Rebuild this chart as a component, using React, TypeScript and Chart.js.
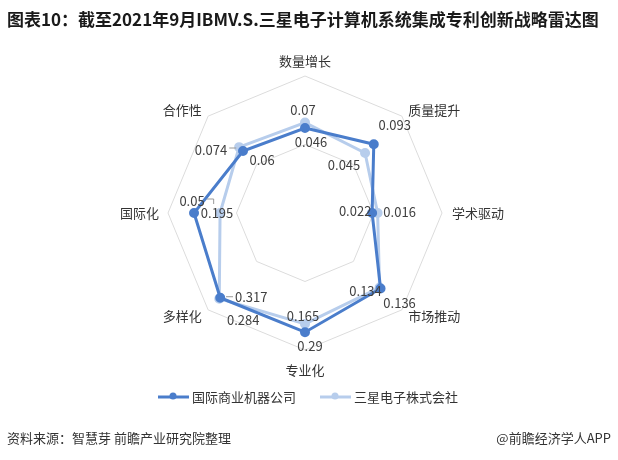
import React, { useEffect, useRef } from 'react';
import { Chart, registerables } from 'chart.js';

Chart.register(...registerables);

const titleText = '图表10：截至2021年9月IBMV.S.三星电子计算机系统集成专利创新战略雷达图';
const sourceText = '资料来源：智慧芽 前瞻产业研究院整理';
const brandText = '@前瞻经济学人APP';

const categories = ['数量增长', '质量提升', '学术驱动', '市场推动', '专业化', '多样化', '国际化', '合作性'];
const seriesNames = ['国际商业机器公司', '三星电子株式会社'];

// plotted radial scores (as drawn in the reference, 0..1)
const ibmScores = [0.62, 0.71, 0.49, 0.78, 0.87, 0.875, 0.81, 0.64];
const samsungScores = [0.66, 0.62, 0.53, 0.77, 0.81, 0.885, 0.62, 0.68];

// value labels printed next to the points
const ibmValueLabels = ['0.046', '0.093', '0.022', '0.134', '0.29', '0.284', '0.05', '0.074'];
const samsungValueLabels = ['0.07', '0.045', '0.016', '0.136', '0.165', '0.317', '0.195', '0.06'];

// label placement (pixel offsets from the point) and leader flags
const ibmLabelOffsets = [[6, 14], [21, -19], [-17, -2], [-15, 3], [5, 14], [23, 22], [-2, -12], [-32, -1]];
const samsungLabelOffsets = [[-2, -13], [-21, 12], [22, -1], [20, 15], [-2, -8], [32, -2], [-3, 0], [23, 13]];
const ibmLeaders = [0, 0, 0, 0, 0, 0, 1, 1];
const samsungLeaders = [0, 0, 0, 0, 0, 1, 0, 0];

const DARK = '#4a7dcb';
const LIGHT = '#b7cdec';
const FONT = "'Noto Sans CJK SC', 'Noto Sans', sans-serif";

const textPlugin = {
  id: 'textPlugin',
  afterDatasetsDraw(chart: any) {
    const ctx = chart.ctx;
    const r = chart.scales.r;
    ctx.save();
    // axis names
    ctx.font = `13px ${FONT}`;
    ctx.fillStyle = '#333';
    ctx.textBaseline = 'middle';
    const R = r.drawingArea;
    categories.forEach((c, i) => {
      const ang = (i * 360) / categories.length;
      let p;
      if (ang === 0) {
        p = r.getPointPosition(i, R + 15);
        ctx.textAlign = 'center';
      } else if (ang === 180) {
        p = r.getPointPosition(i, R + 20);
        ctx.textAlign = 'center';
      } else if (ang === 90) {
        p = r.getPointPosition(i, R + 10);
        ctx.textAlign = 'left';
      } else if (ang === 270) {
        p = r.getPointPosition(i, R + 9);
        ctx.textAlign = 'right';
      } else {
        p = r.getPointPosition(i, R + 9);
        ctx.textAlign = ang < 180 ? 'left' : 'right';
      }
      ctx.fillText(c, p.x, p.y);
    });

    // value labels
    ctx.font = `13px ${FONT}`;
    ctx.fillStyle = '#404040';
    ctx.textAlign = 'center';
    const sets = [
      { labels: ibmValueLabels, offs: ibmLabelOffsets, leaders: ibmLeaders },
      { labels: samsungValueLabels, offs: samsungLabelOffsets, leaders: samsungLeaders },
    ];
    sets.forEach((s, d) => {
      const meta = chart.getDatasetMeta(d);
      meta.data.forEach((pt: any, i: number) => {
        const x = pt.x + s.offs[i][0];
        const y = pt.y + s.offs[i][1];
        ctx.fillStyle = '#404040';
        ctx.fillText(s.labels[i], x, y);
        if (s.leaders[i]) {
          const w = ctx.measureText(s.labels[i]).width;
          ctx.strokeStyle = '#999';
          ctx.lineWidth = 1;
          ctx.beginPath();
          if (x < pt.x) {
            const sx = x + w / 2 + 2;
            ctx.moveTo(sx, y - 2);
            ctx.lineTo(sx + 7, y - 2);
            if (pt.y > y + 6) ctx.lineTo(sx + 7, y + 3);
          } else {
            const sx = x - w / 2 - 2;
            ctx.moveTo(sx, y);
            ctx.lineTo(sx - 7, y);
          }
          ctx.stroke();
        }
      });
    });

    // legend
    const legendY = 397;
    const items = [
      { x: 158, color: DARK, text: seriesNames[0] },
      { x: 320, color: LIGHT, text: seriesNames[1] },
    ];
    ctx.font = `13px ${FONT}`;
    ctx.textAlign = 'left';
    items.forEach((it) => {
      ctx.strokeStyle = it.color;
      ctx.lineWidth = 3;
      ctx.beginPath();
      ctx.moveTo(it.x, legendY);
      ctx.lineTo(it.x + 31, legendY);
      ctx.stroke();
      ctx.fillStyle = it.color;
      ctx.beginPath();
      ctx.arc(it.x + 15, legendY - 1, 3.5, 0, Math.PI * 2);
      ctx.fill();
      ctx.fillStyle = '#333';
      ctx.fillText(it.text, it.x + 34, legendY);
    });

    // title
    ctx.font = `bold 17px ${FONT}`;
    ctx.fillStyle = '#1a1a1a';
    ctx.textAlign = 'left';
    ctx.fillText(titleText, 7, 20);

    // footer
    ctx.font = `13px ${FONT}`;
    ctx.fillStyle = '#333';
    ctx.textAlign = 'left';
    ctx.fillText(sourceText, 7, 438);
    ctx.textAlign = 'right';
    ctx.fillText(brandText, 611, 438);
    ctx.restore();
  },
};

export default function App() {
  const ref = useRef<HTMLCanvasElement | null>(null);
  useEffect(() => {
    if (!ref.current) return;
    const chart = new Chart(ref.current, {
      type: 'radar',
      data: {
        labels: categories,
        datasets: [
          {
            label: seriesNames[0],
            data: ibmScores,
            borderColor: DARK,
            backgroundColor: DARK,
            pointBackgroundColor: DARK,
            pointBorderColor: DARK,
            borderWidth: 3,
            pointRadius: 3.5,
            fill: false,
          },
          {
            label: seriesNames[1],
            data: samsungScores,
            borderColor: LIGHT,
            backgroundColor: LIGHT,
            pointBackgroundColor: LIGHT,
            pointBorderColor: LIGHT,
            borderWidth: 3,
            pointRadius: 3.5,
            fill: false,
          },
        ],
      },
      options: {
        responsive: false,
        animation: false,
        layout: { padding: { top: 76, bottom: 110, left: 0, right: 8 } },
        scales: {
          r: {
            min: 0,
            max: 1,
            ticks: { display: false, stepSize: 0.5 },
            grid: { color: '#dcdcdc', lineWidth: 1 },
            angleLines: { display: false },
            pointLabels: { display: false },
          },
        },
        plugins: { legend: { display: false }, tooltip: { enabled: false } },
      },
      plugins: [textPlugin],
    });
    return () => chart.destroy();
  }, []);
  return (
    <div style={{ position: 'fixed', left: 0, top: 0, width: 618, height: 460, background: '#fff' }}>
      <canvas ref={ref} width={618} height={460} style={{ display: 'block' }} />
    </div>
  );
}
